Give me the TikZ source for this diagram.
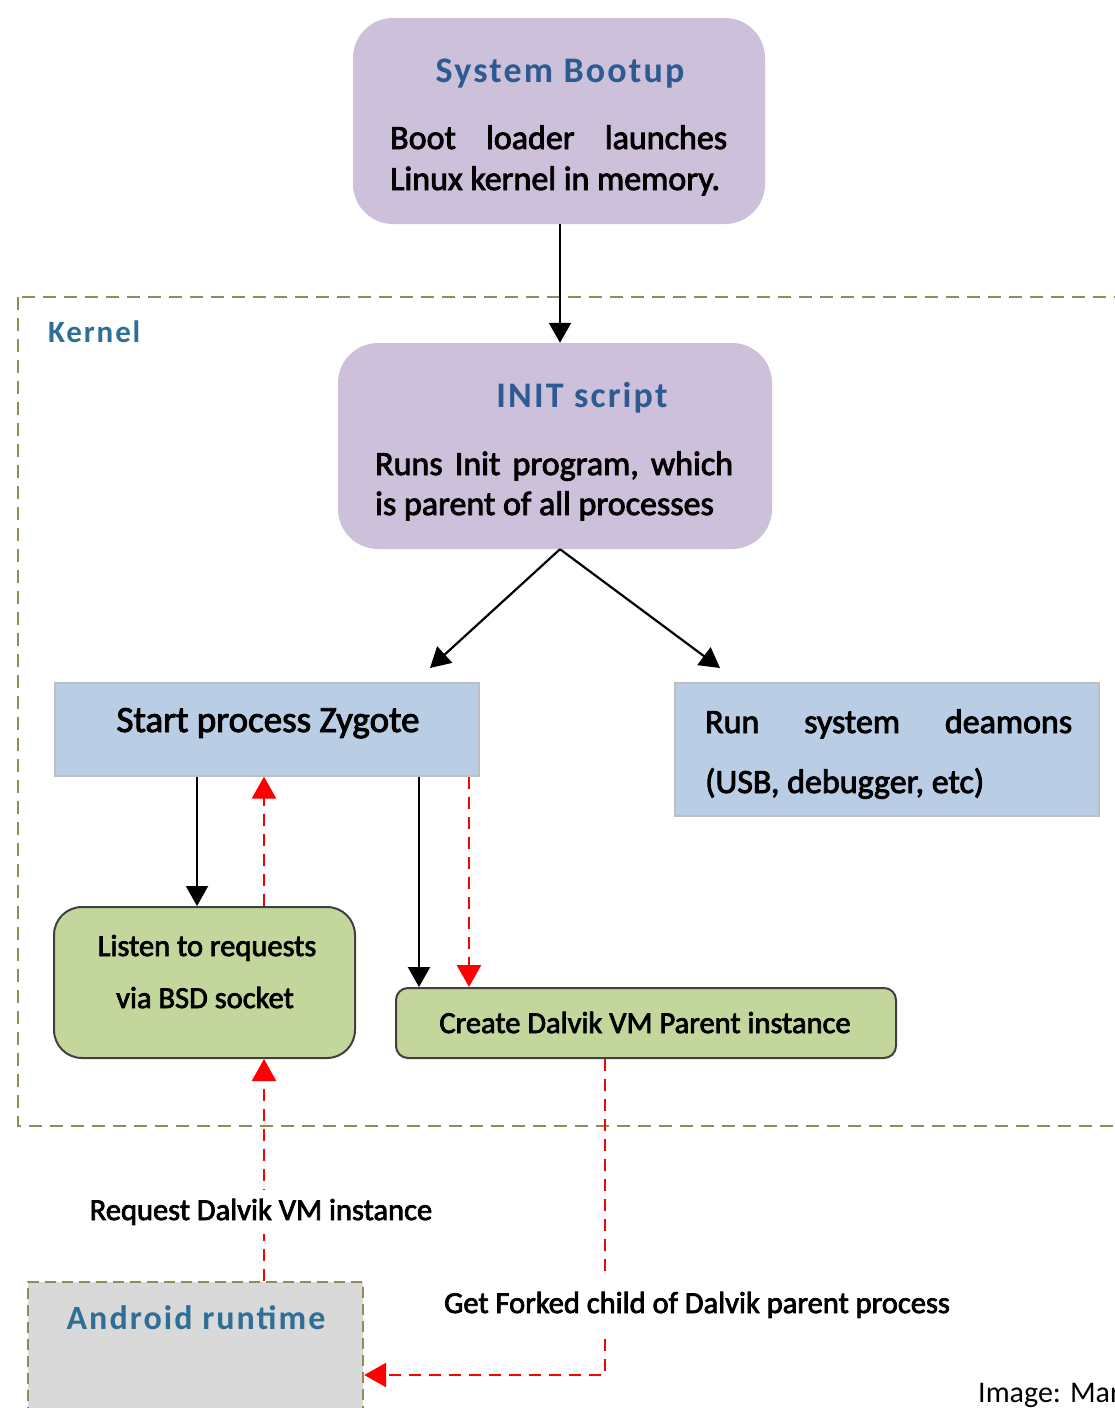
\documentclass[tikz,border=0pt]{standalone}
\usepackage{fontspec}
\setmainfont{Carlito}
\newfontfamily\bodyf[FakeBold=2.5]{Carlito}
\newfontfamily\titlef[LetterSpace=6]{Carlito}
\usetikzlibrary{arrows.meta}
\definecolor{lav}{HTML}{CCC0DA}
\definecolor{bluebox}{HTML}{B9CDE5}
\definecolor{greenbox}{HTML}{C3D69B}
\definecolor{graybox}{HTML}{D9D9D9}
\definecolor{olivec}{HTML}{948A54}
\definecolor{titleblue}{HTML}{2E5A92}
\definecolor{tealc}{HTML}{2F6E96}
\begin{document}
\begin{tikzpicture}[x=1pt,y=-1pt,
  purplebox/.style={fill=lav, rounded corners=40pt, inner sep=0pt},
  zbox/.style={fill=bluebox, draw=black!25, line width=1.2pt, inner sep=0pt},
  gbox/.style={fill=greenbox, draw=black!75, line width=2pt, inner sep=0pt},
  abox/.style={fill=graybox, draw=olivec, line width=2.4pt, dash pattern=on 11pt off 6pt, inner sep=0pt},
  bodytxt/.style={font=\bodyf\fontsize{34}{40}\selectfont, inner sep=0pt, anchor=base west},
  smalltxt/.style={font=\bodyf\fontsize{30.5}{36}\selectfont, inner sep=0pt, anchor=base},
  titletxt/.style={font=\titlef\bfseries\fontsize{36}{40}\selectfont, text=titleblue, inner sep=0pt, anchor=base},
  blk/.style={draw=black, line width=2.2pt, -{Triangle[length=20pt,width=22pt]}},
  rdash/.style={draw=red, line width=2.8pt, dash pattern=on 12pt off 8pt, -{Triangle[length=22pt,width=24pt]}}
]
\useasboundingbox (0,0) rectangle (1114,1408);
% kernel frame
\draw[olivec, line width=2.8pt, dash pattern=on 13pt off 8pt] (18,297) rectangle (1140,1126);
\node[font=\titlef\bfseries\fontsize{31}{36}\selectfont, text=tealc, inner sep=0pt, anchor=base west] (kernel) at (48,342) {Kernel};

% boxes
\node[purplebox, minimum width=412pt, minimum height=206pt] (boot) at (559,121) {};
\node[purplebox, minimum width=434pt, minimum height=206pt] (init) at (555,446) {};
\node[zbox, minimum width=424pt, minimum height=93pt] (zyg) at (267,729.5) {};
\node[zbox, minimum width=424pt, minimum height=133pt] (daem) at (887,749.5) {};
\node[gbox, rounded corners=28pt, minimum width=301pt, minimum height=151pt] (listen) at (204.5,982.5) {};
\node[gbox, rounded corners=12pt, minimum width=500pt, minimum height=70pt] (create) at (646,1023) {};
\node[abox, minimum width=335pt, minimum height=140pt] (android) at (195.5,1352) {};

% texts
\node[titletxt] (tboot) at (560,82) {System Bootup};
\node[bodytxt] (tboot1) at (390,149) {\hbox to 337pt{Boot\hfill loader\hfill launches}};
\node[bodytxt] (tboot2) at (390,190) {Linux kernel in memory.};
\node[titletxt] (tinit) at (582,407) {INIT script};
\node[bodytxt] (tinit1) at (375,475) {\hbox to 358pt{Runs\hfill Init\hfill program,\hfill which}};
\node[bodytxt] (tinit2) at (375,515) {is parent of all processes};
\node[bodytxt, anchor=base, font=\bodyf\fontsize{37}{40}\selectfont] (tzyg) at (268,732) {Start process Zygote};
\node[bodytxt] (tdaem1) at (705,733) {\hbox to 367pt{Run\hfill system\hfill deamons}};
\node[bodytxt] (tdaem2) at (705,793) {(USB, debugger, etc)};
\node[smalltxt] (tlisten1) at (207,956) {Listen to requests};
\node[smalltxt] (tlisten2) at (205,1008) {via BSD socket};
\node[smalltxt] (tcreate) at (645,1033) {Create Dalvik VM Parent instance};
\node[font=\titlef\bfseries\fontsize{34}{40}\selectfont, text=tealc, inner sep=0pt, anchor=base] (tandroid) at (196,1329) {Android runtime};

% coordinates
\coordinate (c197) at (197,0);
\coordinate (c264) at (264,0);
\coordinate (c419) at (419,0);
\coordinate (c469) at (469,0);
\coordinate (c560) at (560,0);
\coordinate (dl) at (430,668);
\coordinate (dr) at (720,668);
\coordinate (fk) at (605,1375);

% connectors
\draw[blk] (boot.south -| c560) -- (init.north -| c560);
\draw[blk] (init.south -| c560) -- (dl);
\draw[blk] (init.south -| c560) -- (dr);
\draw[blk] (zyg.south -| c197) -- (listen.north -| c197);
\draw[rdash] (listen.north -| c264) -- (zyg.south -| c264);
\draw[blk] (zyg.south -| c419) -- (create.north -| c419);
\draw[rdash] (zyg.south -| c469) -- (create.north -| c469);
\draw[rdash] (android.north -| c264) -- (listen.south -| c264);
\draw[rdash] (fk |- create.south) -- (fk) -- (fk -| android.east);

% labels on connectors
\node[smalltxt, fill=white, inner xsep=4pt, inner ysep=9pt] (lreq) at (261,1220) {Request Dalvik VM instance};
\node[smalltxt, fill=white, inner xsep=4pt, inner ysep=18pt] (lfork) at (697,1313) {Get Forked child of Dalvik parent process};

% credit
\node[font=\fontsize{30}{36}\selectfont, inner sep=0pt, anchor=base west] (credit) at (978,1402) {Image: Mar};
\end{tikzpicture}
\end{document}
